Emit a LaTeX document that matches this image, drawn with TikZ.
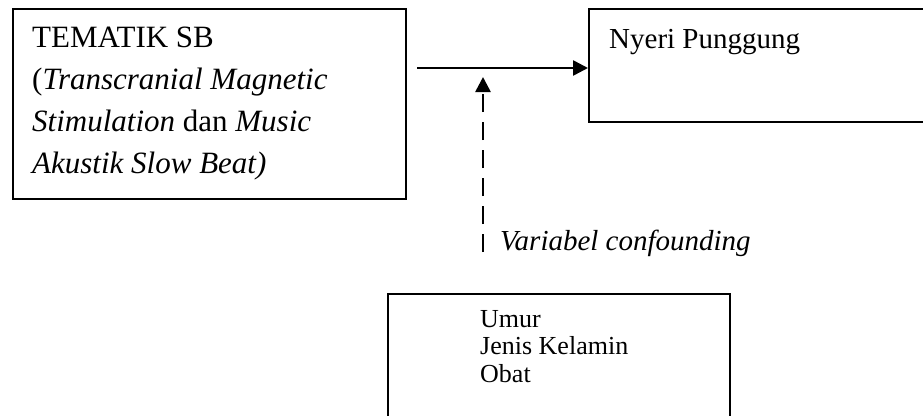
\documentclass[tikz,border=0pt]{standalone}
\usepackage{fontspec}
\setmainfont{Liberation Serif}
\usetikzlibrary{positioning,arrows.meta}

\begin{document}
\begin{tikzpicture}[x=1pt,y=-1pt,
  kotak/.style={draw, line width=1.8pt, rectangle, inner sep=0pt, anchor=north west},
  teks/.style={inner sep=0pt, align=left, anchor=north west},
  panah/.style={line width=2.6pt, -{Triangle[length=15pt,width=15pt]}}]
\useasboundingbox (0,0) rectangle (923,415);
%----------------------------------
\node[kotak, minimum width=393pt, minimum height=190pt] (tematik) at (12,8) {};
\node[kotak, minimum width=360pt, minimum height=113pt] (nyeri) at (588,8) {};
\node[kotak, minimum width=342pt, minimum height=150pt] (faktor) at (387,293) {};
%----------------------------------
\node[teks, font=\fontsize{31pt}{42pt}\selectfont,
  below right=19pt and 20pt of tematik.north west] (tematikteks)
  {TEMATIK SB\\(\textit{Transcranial Magnetic}\\\textit{Stimulation} dan \textit{Music}\\\textit{Akustik Slow Beat)}};
\node[teks, font=\fontsize{29pt}{35pt}\selectfont,
  below right=21pt and 21pt of nyeri.north west] (nyeriteks) {Nyeri Punggung};
\node[teks, font=\fontsize{26pt}{27.5pt}\selectfont,
  below right=17pt and 93pt of faktor.north west] (faktorteks) {Umur\\Jenis Kelamin\\Obat};
%---------------------------------
\coordinate (mulai) at (417,68);
\coordinate (bawah) at (483,252);
\coordinate (atas) at (483,77);
\node[inner sep=0pt, anchor=base west, font=\fontsize{29pt}{35pt}\selectfont\itshape]
  (confounding) at (500,250) {Variabel confounding};
%--------------------------------
\draw[panah] (mulai) -- (mulai -| nyeri.west);
\draw[panah, dash pattern=on 18pt off 10pt] (bawah) -- (atas);
\end{tikzpicture}
\end{document}
